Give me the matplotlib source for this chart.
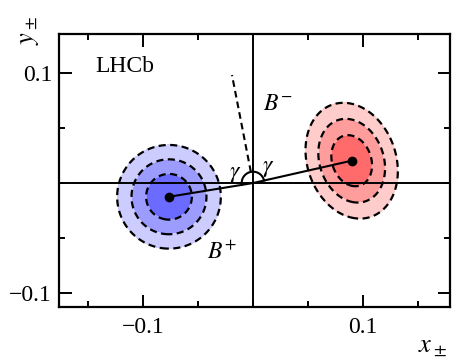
import numpy as np
import matplotlib
matplotlib.use("Agg")
import matplotlib.pyplot as plt
from matplotlib.ticker import MultipleLocator, FixedLocator

plt.rcParams['font.family'] = 'serif'
plt.rcParams['font.serif'] = ['Liberation Serif', 'DejaVu Serif']
plt.rcParams['mathtext.fontset'] = 'stix'
plt.rcParams['axes.unicode_minus'] = True

# fitted central values and uncertainties (x, y)
bminus_center = [0.0897, 0.0203]
bminus_sigma = [0.0122, 0.0153]
bminus_rho = -0.18
bplus_center = [-0.0764, -0.0125]
bplus_sigma = [0.0137, 0.0137]
bplus_rho = 0.0

# 1, 2, 3 sigma contours in 2D (delta chi2)
levels = [0.0, 2.30, 6.18, 11.83]
red_fill = ['#ff6b6b', '#ff9c9c', '#ffcccc']
blue_fill = ['#6b6bff', '#9c9cff', '#ccccff']

major_ticks = [-0.1, 0.1]
tick_labels = ['\u22120.1', '0.1']


def chi2_grid(xx, yy, c, s, rho):
	dx = (xx - c[0]) / s[0]
	dy = (yy - c[1]) / s[1]
	return (dx**2 - 2*rho*dx*dy + dy**2) / (1 - rho**2)


fig = plt.figure(figsize=(4.57, 3.64), dpi=100)
ax = fig.add_axes([0.1291, 0.1566, 0.8556, 0.75])
ax.set_xlim(-0.1764, 0.1791)
ax.set_ylim(-0.1127, 0.1355)

xs = np.linspace(-0.18, 0.18, 600)
ys = np.linspace(-0.12, 0.14, 500)
xx, yy = np.meshgrid(xs, ys)

for c, s, rho, cols in [(bminus_center, bminus_sigma, bminus_rho, red_fill),
						(bplus_center, bplus_sigma, bplus_rho, blue_fill)]:
	z = chi2_grid(xx, yy, c, s, rho)
	ax.contourf(xx, yy, z, levels=levels, colors=cols, zorder=1)
	ax.contour(xx, yy, z, levels=levels[1:], colors='black', linewidths=1.6,
			   linestyles=[(0, (3.2, 2))], zorder=2)

ax.axhline(0, color='black', lw=1.4, zorder=3)
ax.axvline(0, color='black', lw=1.4, zorder=3)

# lines from the origin to each central value
for c in [bminus_center, bplus_center]:
	ax.plot([0, c[0]], [0, c[1]], color='black', lw=1.5, zorder=4)
	ax.plot(c[0], c[1], 'o', color='black', ms=6, zorder=5)

# bisector (dashed) and the angle arc
a1 = np.arctan2(bminus_center[1], bminus_center[0])
a2 = np.arctan2(bplus_center[1], bplus_center[0])
if a2 < a1:
	a2 += 2*np.pi
r_arc = 0.0103
t = np.linspace(a1, a2, 100)
ax.plot(r_arc*np.cos(t), r_arc*np.sin(t), color='black', lw=1.5, zorder=4)
amid = 0.5*(a1 + a2)
ax.plot([r_arc*np.cos(amid), 0.1*np.cos(amid)], [r_arc*np.sin(amid), 0.1*np.sin(amid)],
		color='black', lw=1.5, linestyle=(0, (3.2, 2)), zorder=4)

ax.text(-0.0164, 0.0075, r'$\gamma$', fontsize=17, ha='center', va='center')
ax.text(0.0136, 0.0136, r'$\gamma$', fontsize=17, ha='center', va='center')
ax.text(0.0225, 0.071, r'$B^{-}$', fontsize=17, ha='center', va='center')
ax.text(-0.028, -0.063, r'$B^{+}$', fontsize=17, ha='center', va='center')
ax.text(-0.1436, 0.106, 'LHCb', fontsize=17, ha='left', va='center')

ax.xaxis.set_major_locator(FixedLocator(major_ticks))
ax.yaxis.set_major_locator(FixedLocator(major_ticks))
ax.xaxis.set_minor_locator(MultipleLocator(0.05))
ax.yaxis.set_minor_locator(MultipleLocator(0.05))
ax.set_xticklabels(tick_labels)
ax.set_yticklabels(tick_labels)
ax.tick_params(which='both', direction='in', top=True, right=True, width=1.4, labelsize=17)
ax.tick_params(which='major', length=9, pad=5)
ax.tick_params(which='minor', length=4.5)
ax.tick_params(axis='x', pad=7)
for sp in ax.spines.values():
	sp.set_linewidth(1.6)

fig.text(0.066, 0.955, r'$y_\pm$', fontsize=19, rotation=90, ha='center', va='top')
fig.text(0.978, 0.015, r'$x_\pm$', fontsize=19, ha='right', va='bottom')

fig.savefig('out.png', dpi=100)
